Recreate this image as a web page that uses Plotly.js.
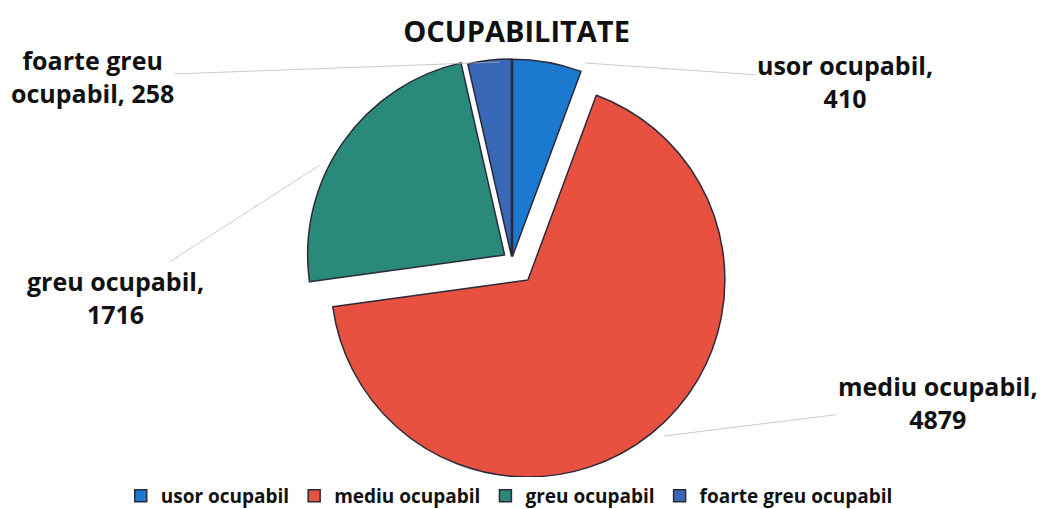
<!DOCTYPE html>
<html>
<head>
<meta charset="utf-8">
<script src="https://cdn.plot.ly/plotly-3.0.1.min.js"></script>
<style>html,body{margin:0;padding:0;background:#fff;}#chart{width:1050px;height:509px;}</style>
</head>
<body>
<div id="chart"></div>
<script>
const categories = ["usor ocupabil", "mediu ocupabil", "greu ocupabil", "foarte greu ocupabil"];
const values = [410, 4879, 1716, 258];
const labelTexts = ["usor ocupabil,<br>410", "mediu ocupabil,<br>4879", "greu ocupabil,<br>1716", "foarte greu<br>ocupabil, 258"];
const colors = ["#1b79cf", "#e8513f", "#2a8a79", "#3a68b9"];
const pulls = [0.02, 0.13, 0.045, 0.02];

const W = 1050, H = 509;
// label placement (pixel centres) and leader-line tips
const labelPos = [[845, 81], [938, 402], [115, 297], [92, 77]];
const tipPos = [[585, 63], [664, 436], [320, 165], [500, 62]];

const trace = {
  type: "pie",
  labels: categories,
  values: values,
  sort: false,
  direction: "clockwise",
  rotation: 0,
  pull: pulls,
  textinfo: "none",
  hoverinfo: "label+value",
  marker: { colors: colors, line: { color: "#2a2a3a", width: 1.5 } },
  domain: { x: [0.2755, 0.6995], y: [0.0519, 0.9265] }
};

const annotations = categories.map((c, i) => ({
  xref: "paper", yref: "paper",
  x: tipPos[i][0] / W, y: 1 - tipPos[i][1] / H,
  ax: labelPos[i][0] - tipPos[i][0], ay: labelPos[i][1] - tipPos[i][1],
  axref: "pixel", ayref: "pixel",
  text: labelTexts[i],
  showarrow: true, arrowhead: 0, arrowwidth: 0.7, arrowcolor: "#b5b5b5",
  xanchor: "center", yanchor: "middle", align: "center",
  font: { family: "Open Sans", size: 25, color: "#111", weight: "bold" }
}));

const layout = {
  width: W, height: H,
  margin: { l: 0, r: 0, t: 0, b: 0, autoexpand: false },
  paper_bgcolor: "#ffffff",
  title: {
    text: "OCUPABILITATE",
    x: 0.492, xanchor: "center",
    y: 1 - 32 / H, yanchor: "middle", yref: "container",
    font: { family: "Open Sans", size: 29, color: "#111", weight: "bold" }
  },
  showlegend: true,
  legend: {
    orientation: "h", x: 0.485, xanchor: "center", y: 1 - 496 / H, yanchor: "middle",
    font: { family: "Open Sans", size: 19, color: "#111", weight: "bold" },
    itemwidth: 30,
    traceorder: "normal"
  },
  annotations: annotations
};

Plotly.newPlot("chart", [trace], layout, { staticPlot: true });
</script>
</body>
</html>
